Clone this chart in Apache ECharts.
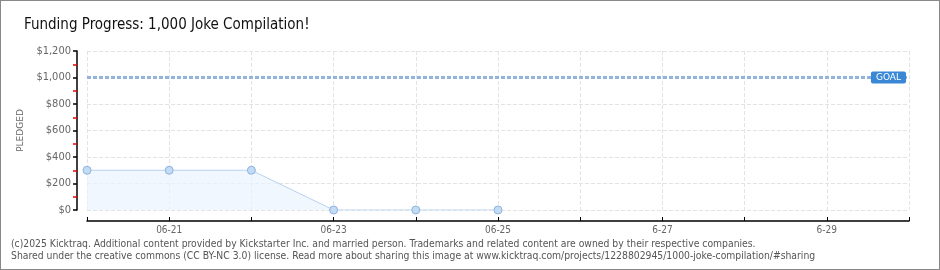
<!DOCTYPE html>
<html>
<head>
<meta charset="utf-8">
<script src="https://cdn.jsdelivr.net/npm/echarts@6/dist/echarts.min.js"></script>
<style>
  html, body { margin: 0; padding: 0; background: #fff; }
  #main { width: 940px; height: 270px; box-sizing: border-box; border: 1px solid #888; }
</style>
</head>
<body>
<div id="main"></div>
<script>
const days = ['06-20', '06-21', '06-22', '06-23', '06-24', '06-25', '06-26', '6-27', '6-28', '6-29', '6-30'];
const pledged = [300, 300, 300, 0, 0, 0];
const goal = 1000;

const chart = echarts.init(document.getElementById('main'));

const option = {
    animation: false,
    title: {
        text: 'Funding Progress: 1,000 Joke Compilation!',
        left: 18, top: 12,
        textStyle: { fontFamily: 'DejaVu Sans Condensed', fontWeight: 'normal', fontSize: 15, color: '#111' }
    },
    grid: { left: 86, right: 30, top: 50, bottom: 59 },
    xAxis: {
        type: 'category',
        data: days,
        boundaryGap: false,
        offset: 11,
        axisLine: { onZero: false, lineStyle: { color: '#000', width: 1.5 } },
        axisTick: { show: true, inside: true, length: 4, lineStyle: { color: '#000' } },
        axisLabel: {
            interval: 0,
            formatter: (v, i) => (i % 2 === 1 ? v : ''),
            color: '#666', fontSize: 10, fontFamily: 'DejaVu Sans Condensed', margin: 4
        },
        splitLine: { show: true, lineStyle: { color: '#e3e3e3', type: 'dashed' } }
    },
    yAxis: {
        type: 'value',
        min: 0, max: 1200, interval: 200,
        offset: 10,
        name: 'PLEDGED',
        nameLocation: 'middle',
        nameGap: 50,
        nameTextStyle: { color: '#666', fontSize: 9, fontFamily: 'DejaVu Sans' },
        axisLine: { show: true, onZero: false, lineStyle: { color: '#000', width: 1.5 } },
        axisTick: { show: true, length: 4, lineStyle: { color: '#000', width: 1.5 } },
        minorTick: { show: true, splitNumber: 2, length: 4, lineStyle: { color: '#e00', width: 1.5 } },
        axisLabel: {
            formatter: v => '$' + v.toLocaleString('en-US'),
            color: '#666', fontSize: 11, fontFamily: 'DejaVu Sans Condensed', margin: 6
        },
        splitLine: { show: true, lineStyle: { color: '#e3e3e3', type: 'dashed' } }
    },
    series: [{
        type: 'line',
        data: pledged,
        symbol: 'circle',
        symbolSize: 8,
        itemStyle: { color: '#c3dcf6', borderColor: '#8fb2dc', borderWidth: 1 },
        lineStyle: { color: '#b5d2f2', width: 1 },
        areaStyle: { color: '#ebf3fd' },
        markLine: {
            silent: true,
            symbol: 'none',
            data: [{ yAxis: goal }],
            lineStyle: { color: '#93b3dc', type: [4, 2], width: 3 },
            label: {
                formatter: 'GOAL',
                position: 'insideEndTop',
                distance: [3, -6],
                backgroundColor: '#3a87d6',
                color: '#fff',
                fontSize: 9,
                fontFamily: 'DejaVu Sans',
                padding: [2, 5, 1, 5],
                borderRadius: 2
            }
        }
    }],
    graphic: [{
        type: 'text',
        left: 10, top: 237,
        style: {
            text: '(c)2025 Kicktraq. Additional content provided by Kickstarter Inc. and married person. Trademarks and related content are owned by their respective companies.\nShared under the creative commons (CC BY-NC 3.0) license. Read more about sharing this image at www.kicktraq.com/projects/1228802945/1000-joke-compilation/#sharing',
            fill: '#555',
            fontSize: 10.3,
            lineHeight: 12,
            fontFamily: 'DejaVu Sans Condensed'
        }
    }]
};

chart.setOption(option);
</script>
</body>
</html>
